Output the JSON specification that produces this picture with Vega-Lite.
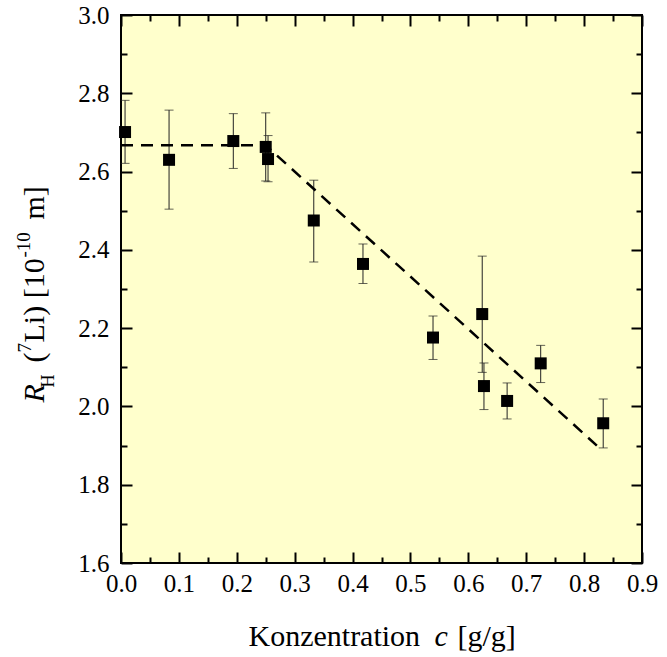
{
  "$schema": "https://vega.github.io/schema/vega-lite/v6.json",
  "width": 521,
  "height": 548,
  "autosize": {"type": "none"},
  "padding": {"left": 121, "top": 15, "right": 25, "bottom": 94},
  "background": "white",
  "config": {
    "font": "Liberation Serif",
    "view": {"fill": "#FFFFCC", "stroke": "black", "strokeWidth": 2},
    "axis": {
      "domain": false,
      "grid": false,
      "tickColor": "black",
      "tickWidth": 2,
      "labelFont": "Liberation Serif",
      "labelFontSize": 25,
      "labelColor": "black",
      "labelFlush": false,
      "labelOverlap": false,
      "titleFont": "Liberation Serif",
      "titleFontSize": 30,
      "titleFontWeight": "normal",
      "titleColor": "black",
      "titleAlign": "left",
      "titleBaseline": "alphabetic"
    }
  },
  "datasets": {
    "pts": [
      {"c": 0.007, "r": 2.701, "lo": 2.621, "hi": 2.782},
      {"c": 0.083, "r": 2.630, "lo": 2.504, "hi": 2.757},
      {"c": 0.194, "r": 2.678, "lo": 2.608, "hi": 2.748},
      {"c": 0.250, "r": 2.663, "lo": 2.576, "hi": 2.750},
      {"c": 0.254, "r": 2.632, "lo": 2.574, "hi": 2.692},
      {"c": 0.333, "r": 2.475, "lo": 2.369, "hi": 2.578},
      {"c": 0.418, "r": 2.364, "lo": 2.314, "hi": 2.415},
      {"c": 0.539, "r": 2.176, "lo": 2.120, "hi": 2.231},
      {"c": 0.624, "r": 2.236, "lo": 2.087, "hi": 2.384},
      {"c": 0.627, "r": 2.052, "lo": 1.992, "hi": 2.111},
      {"c": 0.667, "r": 2.014, "lo": 1.968, "hi": 2.060},
      {"c": 0.725, "r": 2.110, "lo": 2.061, "hi": 2.156},
      {"c": 0.833, "r": 1.957, "lo": 1.894, "hi": 2.019}
    ],
    "fit": [
      {"c": 0.0, "r": 2.667},
      {"c": 0.25, "r": 2.667},
      {"c": 0.822, "r": 1.900}
    ]
  },
  "layer": [
    {
      "data": {"name": "pts"},
      "mark": {"type": "rule", "color": "#222222", "strokeWidth": 1},
      "encoding": {
        "x": {
          "field": "c", "type": "quantitative",
          "scale": {"domain": [0, 0.9], "nice": false, "zero": false},
          "axis": {
            "orient": "bottom",
            "values": [0, 0.1, 0.2, 0.3, 0.4, 0.5, 0.6, 0.7, 0.8, 0.9],
            "format": ".1f",
            "tickSize": -11,
            "labelPadding": 19,
            "title": "Konzentration",
            "titleAngle": 0,
            "titleX": 127,
            "titleY": 82
          }
        },
        "y": {
          "field": "lo", "type": "quantitative",
          "scale": {"domain": [1.6, 3.0], "nice": false, "zero": false},
          "axis": {
            "orient": "left",
            "values": [1.6, 1.8, 2.0, 2.2, 2.4, 2.6, 2.8, 3.0],
            "format": ".1f",
            "tickSize": -11,
            "labelPadding": 23,
            "title": "R",
            "titleFontStyle": "italic",
            "titleAngle": 270,
            "titleX": -78,
            "titleY": 387
          }
        },
        "y2": {"field": "hi"}
      }
    },
    {
      "data": {"name": "pts"},
      "mark": {"type": "tick", "orient": "horizontal", "size": 9, "thickness": 1, "color": "#222222"},
      "encoding": {
        "x": {
          "field": "c", "type": "quantitative",
          "scale": {"domain": [0, 0.9], "nice": false, "zero": false},
          "axis": {
            "orient": "bottom",
            "values": [0.05, 0.15, 0.25, 0.35, 0.45, 0.55, 0.65, 0.75, 0.85],
            "labels": false,
            "tickSize": -6,
            "title": "c",
            "titleFontStyle": "italic",
            "titleAngle": 0,
            "titleX": 313,
            "titleY": 82
          }
        },
        "y": {
          "field": "lo", "type": "quantitative",
          "scale": {"domain": [1.6, 3.0], "nice": false, "zero": false},
          "axis": {
            "orient": "left",
            "values": [1.7, 1.9, 2.1, 2.3, 2.5, 2.7, 2.9],
            "labels": false,
            "tickSize": -6,
            "title": "H",
            "titleFontSize": 18,
            "titleAngle": 270,
            "titleX": -68,
            "titleY": 372
          }
        }
      }
    },
    {
      "data": {"name": "pts"},
      "mark": {"type": "tick", "orient": "horizontal", "size": 9, "thickness": 1, "color": "#222222"},
      "encoding": {
        "x": {
          "field": "c", "type": "quantitative",
          "scale": {"domain": [0, 0.9], "nice": false, "zero": false},
          "axis": {
            "orient": "top",
            "values": [0, 0.1, 0.2, 0.3, 0.4, 0.5, 0.6, 0.7, 0.8, 0.9],
            "labels": false,
            "tickSize": -11,
            "title": "[g/g]",
            "titleAngle": 0,
            "titleX": 336,
            "titleY": 630
          }
        },
        "y": {
          "field": "hi", "type": "quantitative",
          "scale": {"domain": [1.6, 3.0], "nice": false, "zero": false},
          "axis": {
            "orient": "right",
            "values": [1.6, 1.8, 2.0, 2.2, 2.4, 2.6, 2.8, 3.0],
            "labels": false,
            "tickSize": -11,
            "title": "(",
            "titleAngle": 270,
            "titleX": -599,
            "titleY": 347
          }
        }
      }
    },
    {
      "data": {"name": "fit"},
      "mark": {"type": "line", "color": "black", "strokeWidth": 2.5, "strokeDash": [12, 8]},
      "encoding": {
        "x": {
          "field": "c", "type": "quantitative",
          "scale": {"domain": [0, 0.9], "nice": false, "zero": false},
          "axis": {
            "orient": "top",
            "values": [0.05, 0.15, 0.25, 0.35, 0.45, 0.55, 0.65, 0.75, 0.85],
            "labels": false,
            "tickSize": -6,
            "title": "-10",
            "titleFontSize": 19,
            "titleAngle": 270,
            "titleX": -92,
            "titleY": 242
          }
        },
        "y": {
          "field": "r", "type": "quantitative",
          "scale": {"domain": [1.6, 3.0], "nice": false, "zero": false},
          "axis": {
            "orient": "right",
            "values": [1.7, 1.9, 2.1, 2.3, 2.5, 2.7, 2.9],
            "labels": false,
            "tickSize": -6,
            "title": "7",
            "titleFontSize": 19,
            "titleAngle": 270,
            "titleX": -612,
            "titleY": 337
          }
        }
      }
    },
    {
      "data": {"name": "pts"},
      "mark": {"type": "point", "shape": "square", "filled": true, "size": 144, "color": "black", "opacity": 1},
      "encoding": {
        "x": {
          "field": "c", "type": "quantitative",
          "scale": {"domain": [0, 0.9], "nice": false, "zero": false},
          "axis": {
            "orient": "bottom",
            "ticks": false,
            "labels": false,
            "title": "m]",
            "titleAngle": 270,
            "titleX": -78,
            "titleY": -344
          }
        },
        "y": {
          "field": "r", "type": "quantitative",
          "scale": {"domain": [1.6, 3.0], "nice": false, "zero": false},
          "axis": {
            "orient": "left",
            "ticks": false,
            "labels": false,
            "title": "Li) [10",
            "titleAngle": 270,
            "titleX": -78,
            "titleY": 327
          }
        }
      }
    }
  ],
  "resolve": {"scale": {"x": "independent", "y": "independent"}}
}
